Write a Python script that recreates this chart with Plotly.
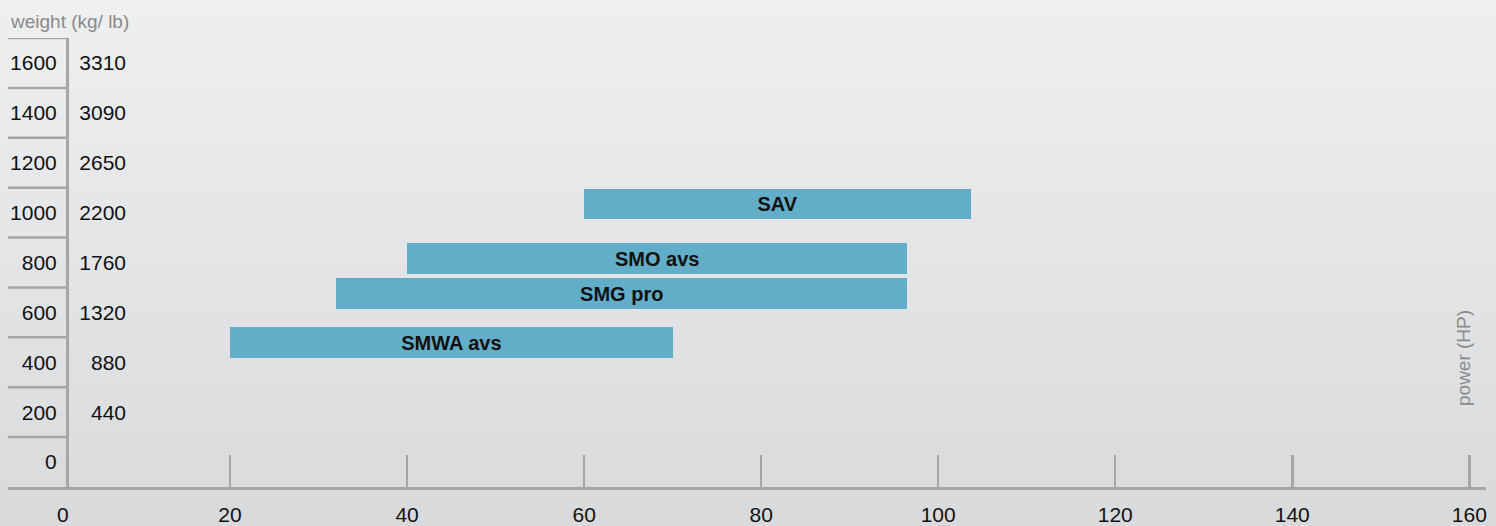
import plotly.graph_objects as go

# ---- data ----
models = ["SAV", "SMO avs", "SMG pro", "SMWA avs"]
power_min = [60, 40, 32, 20]          # HP
power_max = [103.7, 96.5, 96.5, 70]   # HP
weight_level = [1035, 815, 675, 478]  # kg (bar centre)
kg_ticks = [0, 200, 400, 600, 800, 1000, 1200, 1400, 1600]
lb_labels = ["", "440", "880", "1320", "1760", "2200", "2650", "3090", "3310"]
hp_ticks = [20, 40, 60, 80, 100, 120, 140, 160]

# ---- figure geometry ----
W, H = 1496, 526
ML, MR, MT, MB = 8, 10, 38, 39
PW = W - ML - MR
PH = H - MT - MB

def px_x(px):
    return (px - ML) / PW

def px_y(py):
    return (H - MB - py) / PH

NUM = "Liberation Sans, Arial, Helvetica, sans-serif"
REG = "Liberation Sans, Arial, Helvetica, sans-serif"
GRAY = "#a6a6a6"
BAR = "#62aec8"
TXT = "#111111"

fig = go.Figure()

fig.add_trace(go.Bar(
    orientation="h",
    y=weight_level,
    base=power_min,
    x=[b - a for a, b in zip(power_min, power_max)],
    width=123,
    marker=dict(color=BAR, line=dict(width=0)),
    text=[f"<b>{m}</b>" for m in models],
    textposition="inside",
    insidetextanchor="middle",
    textangle=0,
    textfont=dict(family=REG, size=20, color=TXT),
    hoverinfo="skip",
    showlegend=False,
))

# invisible helper trace so the lb axis renders
fig.add_trace(go.Scatter(x=[None], y=[None], yaxis="y2", showlegend=False,
                         hoverinfo="skip", mode="markers"))

# ---- background gradient ----
n = 60
top = (0xEE, 0xEF, 0xEF)
bot = (0xD9, 0xDA, 0xDC)
shapes = []
for i in range(n):
    t = i / (n - 1)
    c = tuple(round(top[k] + (bot[k] - top[k]) * t) for k in range(3))
    y0 = px_y(i * H / n)
    y1 = px_y((i + 1) * H / n + 1)
    shapes.append(dict(type="rect", xref="paper", yref="paper",
                       x0=-0.02, x1=1.02, y0=y1, y1=y0,
                       fillcolor="rgb(%d,%d,%d)" % c, line=dict(width=0),
                       layer="below"))

# row separators on the weight scale
axis_pos = px_x(67)
for v in kg_ticks:
    shapes.append(dict(type="line", xref="paper", yref="y",
                       x0=0, x1=axis_pos, y0=v + 100, y1=v + 100,
                       line=dict(color=GRAY, width=2.5), layer="above"))

fig.update_layout(
    width=W, height=H,
    margin=dict(l=ML, r=MR, t=MT, b=MB, pad=0, autoexpand=False),
    paper_bgcolor="rgba(0,0,0,0)",
    plot_bgcolor="rgba(0,0,0,0)",
    shapes=shapes,
    bargap=0,
    xaxis=dict(
        range=[(ML - 53) / 8.852, (W - MR - 53) / 8.852],
        tickvals=hp_ticks,
        ticktext=[str(v) for v in hp_ticks],
        ticks="inside", ticklen=32, tickwidth=2.5, tickcolor=GRAY,
        showline=True, linecolor=GRAY, linewidth=2.5,
        showgrid=False, zeroline=False, automargin=False,
        tickfont=dict(family=NUM, size=21, color=TXT),
        ticklabelstandoff=7,
        fixedrange=True,
    ),
    yaxis=dict(
        range=[-100, 1700],
        anchor="free", position=axis_pos, side="left",
        tickvals=kg_ticks,
        ticktext=[str(v) for v in kg_ticks],
        ticks="", showline=True, linecolor=GRAY, linewidth=2.5,
        showgrid=False, zeroline=False, automargin=False,
        tickfont=dict(family=NUM, size=21, color=TXT),
        ticklabelstandoff=5,
        fixedrange=True,
    ),
    yaxis2=dict(
        range=[-100, 1700],
        overlaying="y", anchor="free", position=px_x(126), side="left",
        tickvals=kg_ticks, ticktext=lb_labels,
        ticks="", showline=False, showgrid=False, zeroline=False,
        automargin=False,
        tickfont=dict(family=NUM, size=21, color=TXT),
        ticklabelstandoff=0,
        fixedrange=True,
    ),
    annotations=[
        dict(text="weight (kg/ lb)", xref="paper", yref="paper",
             x=0, y=px_y(21), xanchor="left", yanchor="middle",
             showarrow=False, font=dict(family=REG, size=19, color="#8a8a8a")),
        dict(text="power (HP)", xref="paper", yref="paper",
             x=px_x(1463), y=px_y(358), xanchor="center", yanchor="middle",
             textangle=-90, showarrow=False,
             font=dict(family=REG, size=19, color="#8a8a8a")),
        dict(text="0", xref="paper", yref="paper",
             x=px_x(63), y=px_y(514), xanchor="center", yanchor="middle",
             showarrow=False, font=dict(family=NUM, size=21, color=TXT)),
    ],
)

fig.write_html("out.html",
               config={"displayModeBar": False, "staticPlot": True},
               post_script="document.body.style.margin='0';"
                           "document.body.style.overflow='hidden';")
